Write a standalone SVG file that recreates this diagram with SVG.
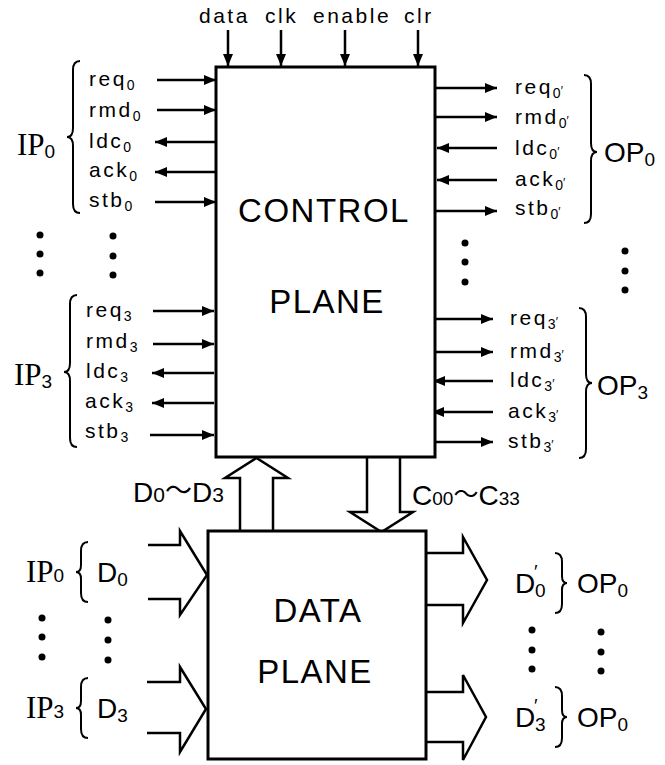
<svg xmlns="http://www.w3.org/2000/svg" width="665" height="765" viewBox="0 0 665 765">
<defs>
<marker id="ah" markerUnits="userSpaceOnUse" markerWidth="12" markerHeight="10" refX="12" refY="5" orient="auto">
<path d="M0,0 L12,5 L0,10 z" fill="#000"/>
</marker>
</defs>
<style>
text{font-family:"Liberation Sans",Arial,sans-serif;fill:#000}
.sig{font-size:21px;letter-spacing:2.5px}
.sub{font-size:14px;letter-spacing:0}
.pr{font-size:12px;letter-spacing:0}
.big{font-size:28px}
.bsub{font-size:19px}
.ser{font-family:"Liberation Serif","Times New Roman",serif;font-size:31px}
.title{font-size:33px;letter-spacing:1.5px;text-anchor:middle}
.ln{stroke:#000;stroke-width:2.5;fill:none}
.arr{stroke:#000;stroke-width:2.5;fill:none;marker-end:url(#ah)}
.br{stroke:#000;stroke-width:2;fill:none}
.box{stroke:#000;stroke-width:3;fill:#fff}
.bus{stroke:#000;stroke-width:2.5;fill:#fff;stroke-linejoin:miter}
.dot{fill:#000}
</style>

<g id="connectors">
<line class="arr" x1="228" y1="30" x2="228" y2="66"/>
<line class="arr" x1="281" y1="30" x2="281" y2="66"/>
<line class="arr" x1="345" y1="30" x2="345" y2="66"/>
<line class="arr" x1="418" y1="30" x2="418" y2="66"/>
<line class="arr" x1="157" y1="80" x2="216" y2="80"/>
<line class="arr" x1="157" y1="110" x2="216" y2="110"/>
<line class="arr" x1="216" y1="142" x2="155" y2="142"/>
<line class="arr" x1="216" y1="172" x2="155" y2="172"/>
<line class="arr" x1="155" y1="202" x2="216" y2="202"/>
<line class="arr" x1="153" y1="311" x2="214" y2="311"/>
<line class="arr" x1="153" y1="344" x2="214" y2="344"/>
<line class="arr" x1="214" y1="373" x2="152" y2="373"/>
<line class="arr" x1="214" y1="403" x2="152" y2="403"/>
<line class="arr" x1="150" y1="435" x2="214" y2="435"/>
<line class="arr" x1="436" y1="88" x2="497" y2="88"/>
<line class="arr" x1="436" y1="117" x2="497" y2="117"/>
<line class="arr" x1="497" y1="148" x2="437" y2="148"/>
<line class="arr" x1="497" y1="180" x2="437" y2="180"/>
<line class="arr" x1="436" y1="211" x2="497" y2="211"/>
<line class="arr" x1="433" y1="319" x2="493" y2="319"/>
<line class="arr" x1="433" y1="352" x2="493" y2="352"/>
<line class="arr" x1="493" y1="381" x2="433" y2="381"/>
<line class="arr" x1="493" y1="412" x2="432" y2="412"/>
<line class="arr" x1="432" y1="442" x2="493" y2="442"/>
<path class="bus" d="M240,531 V478 H225 L256.5,458 L288,478 H273 V531"/>
<path class="bus" d="M367,457 V512 H350 L381.5,532 L413,512 H400 V457"/>
<path class="bus" d="M148,545 H180 V531 L207,575 L180,615 V599 H148"/>
<path class="bus" d="M147,682 H180 V667 L206,709 L180,752 V733 H147"/>
<path class="bus" d="M426,553 H463 V537 L487,580 L463,623 V605 H426"/>
<path class="bus" d="M425,692 H463 V675 L486,717 L463,760 V742 H425"/>
</g>

<g id="control-plane">
<rect class="box" x="216" y="67" width="219" height="390"/>
<text class="title" x="324" y="222">CONTROL</text>
<text class="title" x="327" y="313">PLANE</text>
</g>

<g id="data-plane">
<rect class="box" x="208" y="531" width="218" height="228"/>
<text class="title" x="318" y="622">DATA</text>
<text class="title" x="315" y="683">PLANE</text>
</g>

<g id="top-labels">
<text class="sig" x="199" y="23">data</text>
<text class="sig" x="265" y="23">clk</text>
<text class="sig" x="313" y="23">enable</text>
<text class="sig" x="404" y="23">clr</text>
</g>

<g id="ip0-control">
<text class="ser" x="17" y="155">IP<tspan class="bsub" font-family="Liberation Sans" dy="3">0</tspan></text>
<path class="br" d="M80,61 Q73,61 73,70 V128 Q73,137 67,137 Q73,137 73,146 V204 Q73,213 80,213"/>
<text class="sig" x="89" y="86">req<tspan class="sub" dy="4">0</tspan></text>
<text class="sig" x="89" y="117">rmd<tspan class="sub" dy="4">0</tspan></text>
<text class="sig" x="89" y="148">ldc<tspan class="sub" dy="4">0</tspan></text>
<text class="sig" x="89" y="177">ack<tspan class="sub" dy="4">0</tspan></text>
<text class="sig" x="89" y="207">stb<tspan class="sub" dy="4">0</tspan></text>
</g>

<g id="ip3-control">
<text class="ser" x="14" y="385">IP<tspan class="bsub" font-family="Liberation Sans" dy="3">3</tspan></text>
<path class="br" d="M77,295 Q70,295 70,304 V363 Q70,372 64,372 Q70,372 70,381 V438 Q70,447 77,447"/>
<text class="sig" x="86" y="317">req<tspan class="sub" dy="4">3</tspan></text>
<text class="sig" x="86" y="348">rmd<tspan class="sub" dy="4">3</tspan></text>
<text class="sig" x="86" y="378">ldc<tspan class="sub" dy="4">3</tspan></text>
<text class="sig" x="85" y="408">ack<tspan class="sub" dy="4">3</tspan></text>
<text class="sig" x="85" y="438">stb<tspan class="sub" dy="4">3</tspan></text>
</g>

<g id="op0-control">
<text class="sig" x="515" y="94">req<tspan class="sub" dy="4">0</tspan><tspan class="pr" dy="-3">′</tspan></text>
<text class="sig" x="515" y="124">rmd<tspan class="sub" dy="4">0</tspan><tspan class="pr" dy="-3">′</tspan></text>
<text class="sig" x="515" y="155">ldc<tspan class="sub" dy="4">0</tspan><tspan class="pr" dy="-3">′</tspan></text>
<text class="sig" x="515" y="186">ack<tspan class="sub" dy="4">0</tspan><tspan class="pr" dy="-3">′</tspan></text>
<text class="sig" x="515" y="215">stb<tspan class="sub" dy="4">0</tspan><tspan class="pr" dy="-3">′</tspan></text>
<path class="br" d="M584,75 Q591,75 591,84 V143 Q591,152 597,152 Q591,152 591,161 V214 Q591,223 584,223"/>
<text class="big" x="604" y="162">OP<tspan class="bsub" dy="4">0</tspan></text>
</g>

<g id="op3-control">
<text class="sig" x="510" y="325">req<tspan class="sub" dy="4">3</tspan><tspan class="pr" dy="-3">′</tspan></text>
<text class="sig" x="510" y="358">rmd<tspan class="sub" dy="4">3</tspan><tspan class="pr" dy="-3">′</tspan></text>
<text class="sig" x="510" y="387">ldc<tspan class="sub" dy="4">3</tspan><tspan class="pr" dy="-3">′</tspan></text>
<text class="sig" x="508" y="418">ack<tspan class="sub" dy="4">3</tspan><tspan class="pr" dy="-3">′</tspan></text>
<text class="sig" x="508" y="448">stb<tspan class="sub" dy="4">3</tspan><tspan class="pr" dy="-3">′</tspan></text>
<path class="br" d="M579,308 Q586,308 586,317 V374 Q586,383 592,383 Q586,383 586,392 V449 Q586,458 579,458"/>
<text class="big" x="597" y="395">OP<tspan class="bsub" dy="4">3</tspan></text>
</g>

<g id="dots">
<circle class="dot" cx="40" cy="235" r="3.5"/>
<circle class="dot" cx="40" cy="254" r="3.5"/>
<circle class="dot" cx="40" cy="273" r="3.5"/>
<circle class="dot" cx="113" cy="236" r="3.5"/>
<circle class="dot" cx="113" cy="256" r="3.5"/>
<circle class="dot" cx="113" cy="275" r="3.5"/>
<circle class="dot" cx="465" cy="243" r="3.5"/>
<circle class="dot" cx="465" cy="262" r="3.5"/>
<circle class="dot" cx="465" cy="282" r="3.5"/>
<circle class="dot" cx="625" cy="251" r="3.5"/>
<circle class="dot" cx="625" cy="271" r="3.5"/>
<circle class="dot" cx="625" cy="290" r="3.5"/>
<circle class="dot" cx="42" cy="618" r="3.5"/>
<circle class="dot" cx="42" cy="637" r="3.5"/>
<circle class="dot" cx="42" cy="657" r="3.5"/>
<circle class="dot" cx="108" cy="620" r="3.5"/>
<circle class="dot" cx="108" cy="640" r="3.5"/>
<circle class="dot" cx="108" cy="660" r="3.5"/>
<circle class="dot" cx="532" cy="630" r="3.5"/>
<circle class="dot" cx="532" cy="650" r="3.5"/>
<circle class="dot" cx="532" cy="669" r="3.5"/>
<circle class="dot" cx="601" cy="632" r="3.5"/>
<circle class="dot" cx="601" cy="652" r="3.5"/>
<circle class="dot" cx="601" cy="671" r="3.5"/>
</g>

<g id="bus-labels">
<text class="big" x="133" y="502">D<tspan font-size="21">0</tspan><tspan font-family="Noto Sans CJK JP" font-size="27" dy="-2">〜</tspan><tspan dy="2">D</tspan><tspan font-size="21">3</tspan></text>
<text class="big" x="412" y="505">C<tspan class="bsub">00</tspan><tspan font-family="Noto Sans CJK JP" font-size="25" dy="-2">〜</tspan><tspan dy="2">C</tspan><tspan class="bsub">33</tspan></text>
</g>

<g id="ip0-data">
<text class="ser" x="26" y="582">IP<tspan class="bsub" font-family="Liberation Sans">0</tspan></text>
<path class="br" d="M88,542 Q81,542 81,551 V565 Q81,572 76,572 Q81,572 81,579 V593 Q81,602 88,602"/>
<text class="big" x="97" y="582">D<tspan class="bsub" dy="4">0</tspan></text>
</g>

<g id="ip3-data">
<text class="ser" x="26" y="718">IP<tspan class="bsub" font-family="Liberation Sans">3</tspan></text>
<path class="br" d="M88,678 Q81,678 81,687 V701 Q81,708 76,708 Q81,708 81,715 V729 Q81,738 88,738"/>
<text class="big" x="97" y="718">D<tspan class="bsub" dy="4">3</tspan></text>
</g>

<g id="op0-data">
<text class="big" x="515" y="593">D</text>
<text class="bsub" x="534" y="578">′</text>
<text class="bsub" x="535" y="597">0</text>
<path class="br" d="M555,553 Q562,553 562,562 V576 Q562,583 567,583 Q562,583 562,590 V604 Q562,613 555,613"/>
<text class="big" x="577" y="593">OP<tspan class="bsub" dy="4">0</tspan></text>
</g>

<g id="op3-data">
<text class="big" x="515" y="727">D</text>
<text class="bsub" x="534" y="712">′</text>
<text class="bsub" x="535" y="731">3</text>
<path class="br" d="M555,687 Q562,687 562,696 V710 Q562,717 567,717 Q562,717 562,724 V738 Q562,747 555,747"/>
<text class="big" x="577" y="727">OP<tspan class="bsub" dy="4">0</tspan></text>
</g>
</svg>
